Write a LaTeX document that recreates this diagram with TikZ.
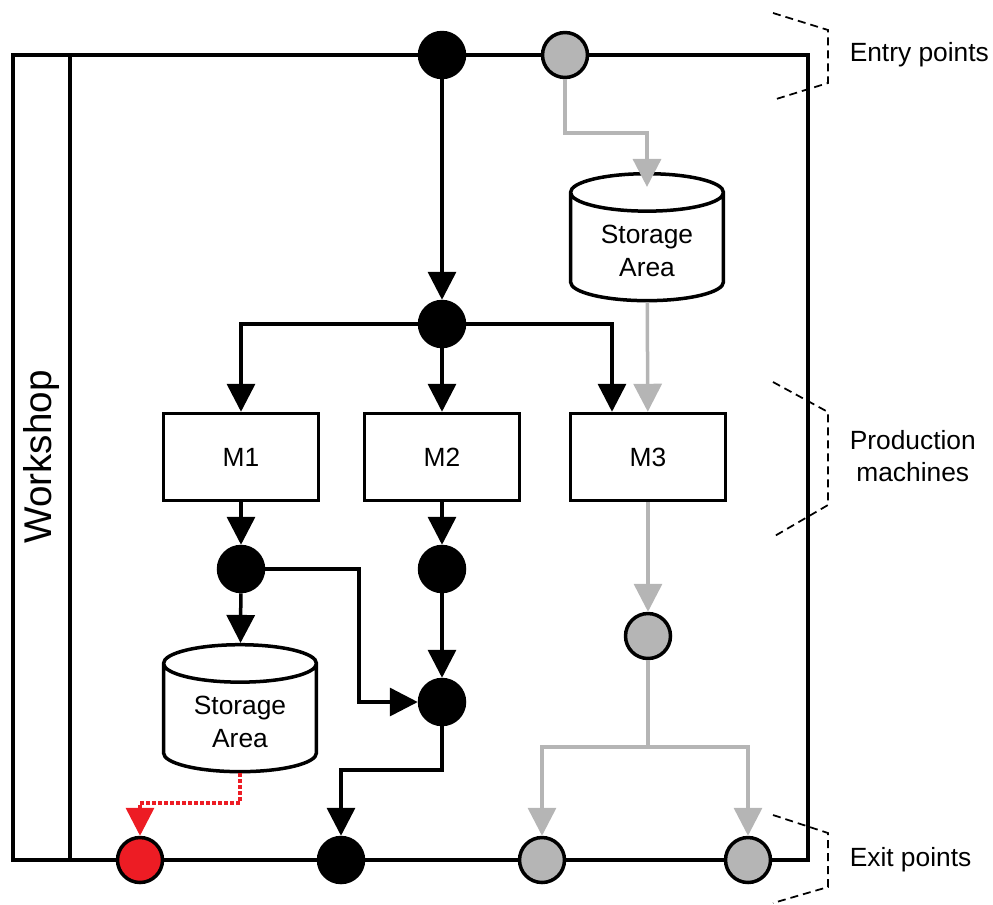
\documentclass[tikz,border=0pt]{standalone}
\usepackage{fontspec}
\setmainfont{Liberation Sans}
\usetikzlibrary{%
  arrows.meta,%
  shapes.geometric,% wg. cylinder
  positioning,%
  calc%
}
\definecolor{lgray}{RGB}{181,181,181}
\definecolor{sred}{RGB}{237,28,36}

\begin{document}
\begin{tikzpicture}
  [
  x=0.02cm, y=-0.02cm,
  font=\fontsize{15}{18.5}\selectfont, >={Triangle[length=5.6mm,width=5.6mm]}, line width=0.07cm,
  machine/.style={rectangle, minimum height=17.4mm, minimum width=31mm, draw=black},
  storage/.style={cylinder, shape border rotate=90, aspect=0.36, minimum height=25.4mm, minimum width=30.6mm, draw=black, align=center},
  bpoint/.style={circle, minimum size=9mm, inner sep=0pt, draw=black, fill=black},
  gpoint/.style={bpoint, fill=lgray},
  rpoint/.style={bpoint, fill=sred},
  gflow/.style={draw=lgray},
  rflow/.style={draw=sred, dash pattern=on 0.07cm off 0.05cm},
  brace/.style={line width=0.035cm, dash pattern=on 0.16cm off 0.1cm},
  sidetext/.style={anchor=west, inner sep=0pt, align=center}
  ]
\useasboundingbox (0,0) rectangle (993,904);

\draw (13,55) rectangle (808,860);
\draw (70,55) -- (70,860);
\node[rotate=90, font=\fontsize{22}{26}\selectfont] (wslabel) at (42,457) {Workshop};

\node[bpoint] (in1) at (442,55) {};
\node[gpoint] (in2) at (565,55) {};

\node[storage] (st1) at (647,251) {Storage\\Area};
\node[bpoint] (j1) at (442,324) {};

\node[machine] (m1) at (241,457) {M1};
\node[machine] (m2) at (442,457) {M2};
\node[machine] (m3) at (648,457) {M3};

\node[bpoint] (p1) at (241,569) {};
\node[bpoint] (p2) at (442,569) {};
\node[bpoint] (p3) at (442,702) {};
\node[gpoint] (g1) at (648,636) {};
\node[storage] (st2) at (240,722) {Storage\\Area};

\node[rpoint] (out1) at (140,860) {};
\node[bpoint] (out2) at (341,860) {};
\node[gpoint] (out3) at (542,860) {};
\node[gpoint] (out4) at (748,860) {};

\coordinate (k1) at (359,569);
\coordinate (k2) at (341,770);
\coordinate (k3) at (565,133);
\coordinate (k4) at (648,747);
\coordinate (k5) at (240,803);

% black flow
\draw[->] (in1) -- (j1);
\draw[->] (j1) -| (m1);
\draw[->] (j1) -- (m2);
\draw[->] (j1) -| ([xshift=-0.72cm]m3.north);
\foreach \i in {1,2} {
  \draw[->] (m\i) -- (p\i);
}
\draw[->] (p1) -- (st2);
\draw[->] (p1) -- (k1) |- (p3);
\draw[->] (p2) -- (p3);
\draw[->] (p3) |- (k2) -- (out2);

% gray flow
\draw[->, gflow, shorten >=-0.3cm] (in2) -- (k3) -| (st1);
\draw[->, gflow] (st1) -- (m3);
\draw[->, gflow] (m3) -- (g1);
\draw[->, gflow] (g1) -- (k4) -| (out3);
\draw[->, gflow] (k4) -| (out4);

% red flow
\draw[->, rflow] (st2.south) -- (k5) -| (out1);

\foreach \ya/\yb/\yc/\yd in {13/30/83/100, 382/412/505/537, 815/833/887/903} {
  \draw[brace] (773,\ya) -- (828,\yb) -- (828,\yc) -- (773,\yd);
}

\node[sidetext] (lentry) at (848,55) {Entry points};
\node[sidetext] (lprod) at (848,456) {Production\\machines};
\node[sidetext] (lexit) at (848,860) {Exit points};

\end{tikzpicture}
\end{document}
